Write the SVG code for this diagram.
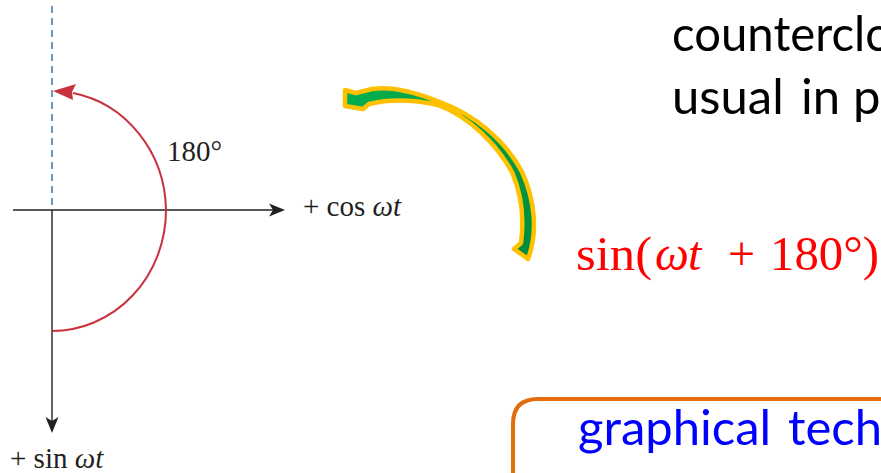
<svg xmlns="http://www.w3.org/2000/svg" width="881" height="473" viewBox="0 0 881 473">
<style>
.axis{stroke:#231f20;stroke-width:1.4;fill:none}
.dash{stroke:#2f6fa8;stroke-width:1.4;stroke-dasharray:7 5;fill:none}
.arc{stroke:#c8323f;stroke-width:2;fill:none}
.fig{font-family:"Liberation Serif","DejaVu Serif",serif;font-size:29px;fill:#231f20}
.it{font-style:italic}
.sans{font-family:Lato,"Open Sans","Liberation Sans",sans-serif;font-size:49px}
.math{font-family:"Liberation Serif","DejaVu Serif",serif;font-size:48px;fill:#ff0000}
</style>
<defs>
<marker id="axhead" viewBox="-17 -7 18 14" refX="-5" refY="0" markerWidth="18" markerHeight="14" markerUnits="userSpaceOnUse" orient="auto">
<path d="M0,0 L-16,-6.5 L-12,0 L-16,6.5 Z" fill="#231f20"/>
</marker>
<linearGradient id="gr" x1="0" y1="0" x2="1" y2="1">
<stop offset="0" stop-color="#00b050"/>
<stop offset="1" stop-color="#008a3e"/>
</linearGradient>
</defs>
<rect width="881" height="473" fill="#ffffff"/>
<g id="connectors">
<line id="ref-line" class="dash" x1="52" y1="6" x2="52" y2="205"/>
<line id="axis-cos" class="axis" x1="13" y1="210" x2="280" y2="210" marker-end="url(#axhead)"/>
<line id="axis-sin" class="axis" x1="52" y1="210" x2="52" y2="428" marker-end="url(#axhead)"/>
<g id="phase-arc">
<path class="arc" d="M52,331 A114,121 0 0 0 166,210 A114,121 0 0 0 73,93"/>
<path d="M53,91 L76,84 L72,92 L73,100 Z" fill="#c8323f"/>
</g>
<g id="curved-arrow">
<path d="M345,90 L345,106 L363,109 L369,104 C390,99 415,100 438,105 C470,117 497,145 512,172 C522,195 524,220 521,243 L514,249 L528,259 C538,232 535,200 522,172 C505,140 475,115 440,102 C415,92 390,86 372,89 L356,93 Z" fill="url(#gr)" stroke="#ffc000" stroke-width="4.5" stroke-linejoin="round"/>
</g>
</g>
<g id="label-180"><text class="fig" x="167" y="161">180°</text></g>
<g id="label-cos"><text class="fig" x="303" y="216">+ cos <tspan class="it">ωt</tspan></text></g>
<g id="label-sin"><text class="fig" x="10" y="468">+ sin <tspan class="it">ωt</tspan></text></g>
<g id="note-text">
<text class="sans" x="672" y="51" fill="#000000" textLength="220" lengthAdjust="spacingAndGlyphs">counterclo</text>
<text class="sans" y="114" fill="#000000"><tspan x="672">usual</tspan><tspan x="801">in</tspan><tspan x="853">po</tspan></text>
</g>
<g id="formula">
<text class="math" x="576" y="270" textLength="76" lengthAdjust="spacingAndGlyphs">sin(</text>
<text class="math it" x="655" y="270">ω</text>
<text class="math it" x="688" y="270">t</text>
<text class="math" x="728" y="270">+</text>
<text class="math" x="770" y="270" textLength="109" lengthAdjust="spacingAndGlyphs">180°)</text>
</g>
<g id="graphical-box">
<path d="M513,480 L513,424 Q513,399 538,399 L890,399" fill="none" stroke="#e46c0a" stroke-width="4"/>
<text class="sans" y="445" fill="#0000ff"><tspan x="578">graphical</tspan><tspan x="788">tech</tspan></text>
</g>
</svg>
